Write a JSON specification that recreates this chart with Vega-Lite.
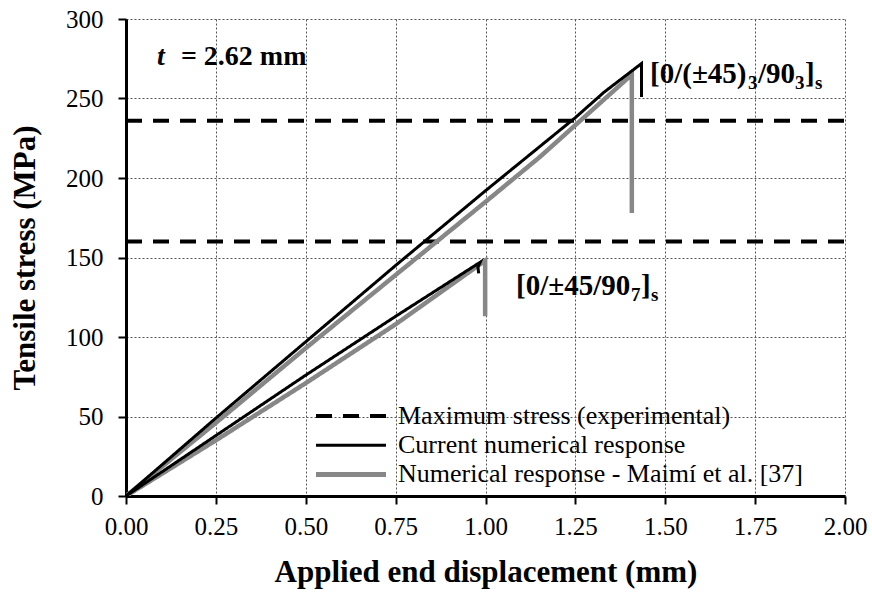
{
  "$schema": "https://vega.github.io/schema/vega-lite/v6.json",
  "width": 719,
  "height": 477,
  "autosize": {"type": "none"},
  "padding": {"left": 126, "top": 19, "right": 27, "bottom": 109},
  "background": "white",
  "config": {
    "font": "Liberation Serif",
    "view": {"stroke": null},
    "axis": {
      "labelFont": "Liberation Serif",
      "labelFontSize": 25,
      "labelColor": "black",
      "titleFont": "Liberation Serif",
      "titleFontSize": 31,
      "titleFontWeight": "bold",
      "titleColor": "black",
      "domainColor": "black",
      "domainWidth": 3,
      "tickColor": "black",
      "tickWidth": 2,
      "tickSize": 8,
      "grid": true,
      "gridColor": "#555555",
      "gridDash": [2, 2],
      "gridWidth": 1
    },
    "legend": {
      "orient": "none",
      "legendX": 212,
      "legendY": 384,
      "symbolType": "M-3.5,0H3.5",
      "symbolSize": 400,
      "labelFont": "Liberation Serif",
      "labelFontSize": 26,
      "labelColor": "black",
      "labelLimit": 0,
      "rowPadding": 3.2,
      "labelOffset": 34,
      "padding": 0
    }
  },
  "datasets": {
    "curves": [
      {"series": "Maximum stress (experimental)", "curve": "D1", "i": 0, "x": 0, "y": 236},
      {"series": "Maximum stress (experimental)", "curve": "D1", "i": 1, "x": 2, "y": 236},
      {"series": "Maximum stress (experimental)", "curve": "D2", "i": 0, "x": 0, "y": 160},
      {"series": "Maximum stress (experimental)", "curve": "D2", "i": 1, "x": 2, "y": 160},
      {"series": "Current numerical response", "curve": "CA", "i": 0, "x": 0, "y": 0},
      {"series": "Current numerical response", "curve": "CA", "i": 1, "x": 0.25, "y": 49},
      {"series": "Current numerical response", "curve": "CA", "i": 2, "x": 0.5, "y": 97},
      {"series": "Current numerical response", "curve": "CA", "i": 3, "x": 0.75, "y": 145},
      {"series": "Current numerical response", "curve": "CA", "i": 4, "x": 1.0, "y": 192},
      {"series": "Current numerical response", "curve": "CA", "i": 5, "x": 1.25, "y": 238},
      {"series": "Current numerical response", "curve": "CA", "i": 6, "x": 1.33, "y": 254},
      {"series": "Current numerical response", "curve": "CA", "i": 7, "x": 1.434, "y": 272},
      {"series": "Current numerical response", "curve": "CA", "i": 8, "x": 1.434, "y": 251},
      {"series": "Current numerical response", "curve": "CB", "i": 0, "x": 0, "y": 0},
      {"series": "Current numerical response", "curve": "CB", "i": 1, "x": 0.25, "y": 38},
      {"series": "Current numerical response", "curve": "CB", "i": 2, "x": 0.5, "y": 76},
      {"series": "Current numerical response", "curve": "CB", "i": 3, "x": 0.75, "y": 113},
      {"series": "Current numerical response", "curve": "CB", "i": 4, "x": 0.985, "y": 147},
      {"series": "Current numerical response", "curve": "CB", "i": 5, "x": 0.979, "y": 144},
      {"series": "Current numerical response", "curve": "CB", "i": 6, "x": 0.981, "y": 140},
      {"series": "Numerical response - Maimí et al. [37]", "curve": "MA", "i": 0, "x": 0, "y": 0},
      {"series": "Numerical response - Maimí et al. [37]", "curve": "MA", "i": 1, "x": 0.25, "y": 46},
      {"series": "Numerical response - Maimí et al. [37]", "curve": "MA", "i": 2, "x": 0.5, "y": 93},
      {"series": "Numerical response - Maimí et al. [37]", "curve": "MA", "i": 3, "x": 0.75, "y": 139},
      {"series": "Numerical response - Maimí et al. [37]", "curve": "MA", "i": 4, "x": 1.0, "y": 185},
      {"series": "Numerical response - Maimí et al. [37]", "curve": "MA", "i": 5, "x": 1.15, "y": 213},
      {"series": "Numerical response - Maimí et al. [37]", "curve": "MA", "i": 6, "x": 1.407, "y": 265},
      {"series": "Numerical response - Maimí et al. [37]", "curve": "MA", "i": 7, "x": 1.407, "y": 178},
      {"series": "Numerical response - Maimí et al. [37]", "curve": "MB", "i": 0, "x": 0, "y": 0},
      {"series": "Numerical response - Maimí et al. [37]", "curve": "MB", "i": 1, "x": 0.25, "y": 35},
      {"series": "Numerical response - Maimí et al. [37]", "curve": "MB", "i": 2, "x": 0.5, "y": 71},
      {"series": "Numerical response - Maimí et al. [37]", "curve": "MB", "i": 3, "x": 0.75, "y": 108},
      {"series": "Numerical response - Maimí et al. [37]", "curve": "MB", "i": 4, "x": 0.999, "y": 148},
      {"series": "Numerical response - Maimí et al. [37]", "curve": "MB", "i": 5, "x": 0.999, "y": 113}
    ],
    "one": [{"k": 1}]
  },
  "layer": [
    {
      "data": {"name": "curves"},
      "transform": [{"filter": "datum.series === 'Maximum stress (experimental)'"}],
      "mark": {"type": "line", "clip": true, "strokeWidth": 4},
      "encoding": {
        "x": {
          "field": "x", "type": "quantitative",
          "scale": {"domain": [0, 2], "nice": false},
          "axis": {"values": [0, 0.25, 0.5, 0.75, 1, 1.25, 1.5, 1.75, 2], "format": ".2f", "labelPadding": 10, "title": "Applied end displacement (mm)", "titlePadding": 18, "labelFlush": false}
        },
        "y": {
          "field": "y", "type": "quantitative",
          "scale": {"domain": [0, 300], "nice": false},
          "axis": {"values": [0, 50, 100, 150, 200, 250, 300], "labelPadding": 15, "title": "Tensile stress (MPa)", "titlePadding": 24}
        },
        "detail": {"field": "curve"},
        "order": {"field": "i"},
        "color": {"field": "series", "type": "nominal",
          "scale": {"domain": ["Maximum stress (experimental)", "Current numerical response", "Numerical response - Maimí et al. [37]"], "range": ["black", "black", "#878787"]},
          "legend": {"title": null, "encode": {"symbols": {"update": {"strokeWidth": {"signal": "datum.value === 'Numerical response - Maimí et al. [37]' ? 5 : (datum.value === 'Current numerical response' ? 3 : 4)"}}}}}},
        "strokeDash": {"field": "series", "type": "nominal", "title": null,
          "scale": {"domain": ["Maximum stress (experimental)", "Current numerical response", "Numerical response - Maimí et al. [37]"], "range": [[16, 11], [1, 0], [1, 0]]}}
      }
    },
    {
      "data": {"name": "curves"},
      "transform": [{"filter": "datum.series === 'Numerical response - Maimí et al. [37]'"}],
      "mark": {"type": "line", "clip": true, "strokeWidth": 4.5},
      "encoding": {
        "x": {"field": "x", "type": "quantitative"},
        "y": {"field": "y", "type": "quantitative"},
        "detail": {"field": "curve"},
        "order": {"field": "i"},
        "color": {"field": "series", "type": "nominal"},
        "strokeDash": {"field": "series", "type": "nominal"}
      }
    },
    {
      "data": {"name": "curves"},
      "transform": [{"filter": "datum.series === 'Current numerical response'"}],
      "mark": {"type": "line", "clip": true, "strokeWidth": 3},
      "encoding": {
        "x": {"field": "x", "type": "quantitative"},
        "y": {"field": "y", "type": "quantitative"},
        "detail": {"field": "curve"},
        "order": {"field": "i"},
        "color": {"field": "series", "type": "nominal"},
        "strokeDash": {"field": "series", "type": "nominal"}
      }
    },
    {
      "data": {"name": "one"},
      "mark": {"type": "text", "font": "Liberation Serif", "fontSize": 28, "fontWeight": "bold", "fontStyle": "italic", "align": "left", "baseline": "alphabetic", "color": "black"},
      "encoding": {"x": {"datum": 0.086, "type": "quantitative"}, "y": {"datum": 271, "type": "quantitative"}, "text": {"value": "t"}}
    },
    {
      "data": {"name": "one"},
      "mark": {"type": "text", "font": "Liberation Serif", "fontSize": 28, "fontWeight": "bold", "align": "left", "baseline": "alphabetic", "color": "black", "dx": 24},
      "encoding": {"x": {"datum": 0.086, "type": "quantitative"}, "y": {"datum": 271, "type": "quantitative"}, "text": {"value": "= 2.62 mm"}}
    },
    {
      "data": {"name": "one"},
      "mark": {"type": "text", "font": "Liberation Serif", "fontSize": 29, "fontWeight": "bold", "align": "left", "baseline": "alphabetic", "color": "black"},
      "encoding": {"x": {"datum": 1.4576, "type": "quantitative"}, "y": {"datum": 259.7, "type": "quantitative"}, "text": {"value": "[0/(±45)"}}
    },
    {
      "data": {"name": "one"},
      "mark": {"type": "text", "font": "Liberation Serif", "fontSize": 19, "fontWeight": "bold", "align": "left", "baseline": "alphabetic", "color": "black", "dx": 98, "dy": 6},
      "encoding": {"x": {"datum": 1.4576, "type": "quantitative"}, "y": {"datum": 259.7, "type": "quantitative"}, "text": {"value": "3"}}
    },
    {
      "data": {"name": "one"},
      "mark": {"type": "text", "font": "Liberation Serif", "fontSize": 29, "fontWeight": "bold", "align": "left", "baseline": "alphabetic", "color": "black", "dx": 108},
      "encoding": {"x": {"datum": 1.4576, "type": "quantitative"}, "y": {"datum": 259.7, "type": "quantitative"}, "text": {"value": "/90"}}
    },
    {
      "data": {"name": "one"},
      "mark": {"type": "text", "font": "Liberation Serif", "fontSize": 19, "fontWeight": "bold", "align": "left", "baseline": "alphabetic", "color": "black", "dx": 145, "dy": 6},
      "encoding": {"x": {"datum": 1.4576, "type": "quantitative"}, "y": {"datum": 259.7, "type": "quantitative"}, "text": {"value": "3"}}
    },
    {
      "data": {"name": "one"},
      "mark": {"type": "text", "font": "Liberation Serif", "fontSize": 29, "fontWeight": "bold", "align": "left", "baseline": "alphabetic", "color": "black", "dx": 155},
      "encoding": {"x": {"datum": 1.4576, "type": "quantitative"}, "y": {"datum": 259.7, "type": "quantitative"}, "text": {"value": "]"}}
    },
    {
      "data": {"name": "one"},
      "mark": {"type": "text", "font": "Liberation Serif", "fontSize": 19, "fontWeight": "bold", "align": "left", "baseline": "alphabetic", "color": "black", "dx": 165, "dy": 6},
      "encoding": {"x": {"datum": 1.4576, "type": "quantitative"}, "y": {"datum": 259.7, "type": "quantitative"}, "text": {"value": "s"}}
    },
    {
      "data": {"name": "one"},
      "mark": {"type": "text", "font": "Liberation Serif", "fontSize": 29, "fontWeight": "bold", "align": "left", "baseline": "alphabetic", "color": "black"},
      "encoding": {"x": {"datum": 1.085, "type": "quantitative"}, "y": {"datum": 126.4, "type": "quantitative"}, "text": {"value": "[0/±45/90"}}
    },
    {
      "data": {"name": "one"},
      "mark": {"type": "text", "font": "Liberation Serif", "fontSize": 19, "fontWeight": "bold", "align": "left", "baseline": "alphabetic", "color": "black", "dx": 115, "dy": 6},
      "encoding": {"x": {"datum": 1.085, "type": "quantitative"}, "y": {"datum": 126.4, "type": "quantitative"}, "text": {"value": "7"}}
    },
    {
      "data": {"name": "one"},
      "mark": {"type": "text", "font": "Liberation Serif", "fontSize": 29, "fontWeight": "bold", "align": "left", "baseline": "alphabetic", "color": "black", "dx": 125},
      "encoding": {"x": {"datum": 1.085, "type": "quantitative"}, "y": {"datum": 126.4, "type": "quantitative"}, "text": {"value": "]"}}
    },
    {
      "data": {"name": "one"},
      "mark": {"type": "text", "font": "Liberation Serif", "fontSize": 19, "fontWeight": "bold", "align": "left", "baseline": "alphabetic", "color": "black", "dx": 135, "dy": 6},
      "encoding": {"x": {"datum": 1.085, "type": "quantitative"}, "y": {"datum": 126.4, "type": "quantitative"}, "text": {"value": "s"}}
    }
  ]
}
